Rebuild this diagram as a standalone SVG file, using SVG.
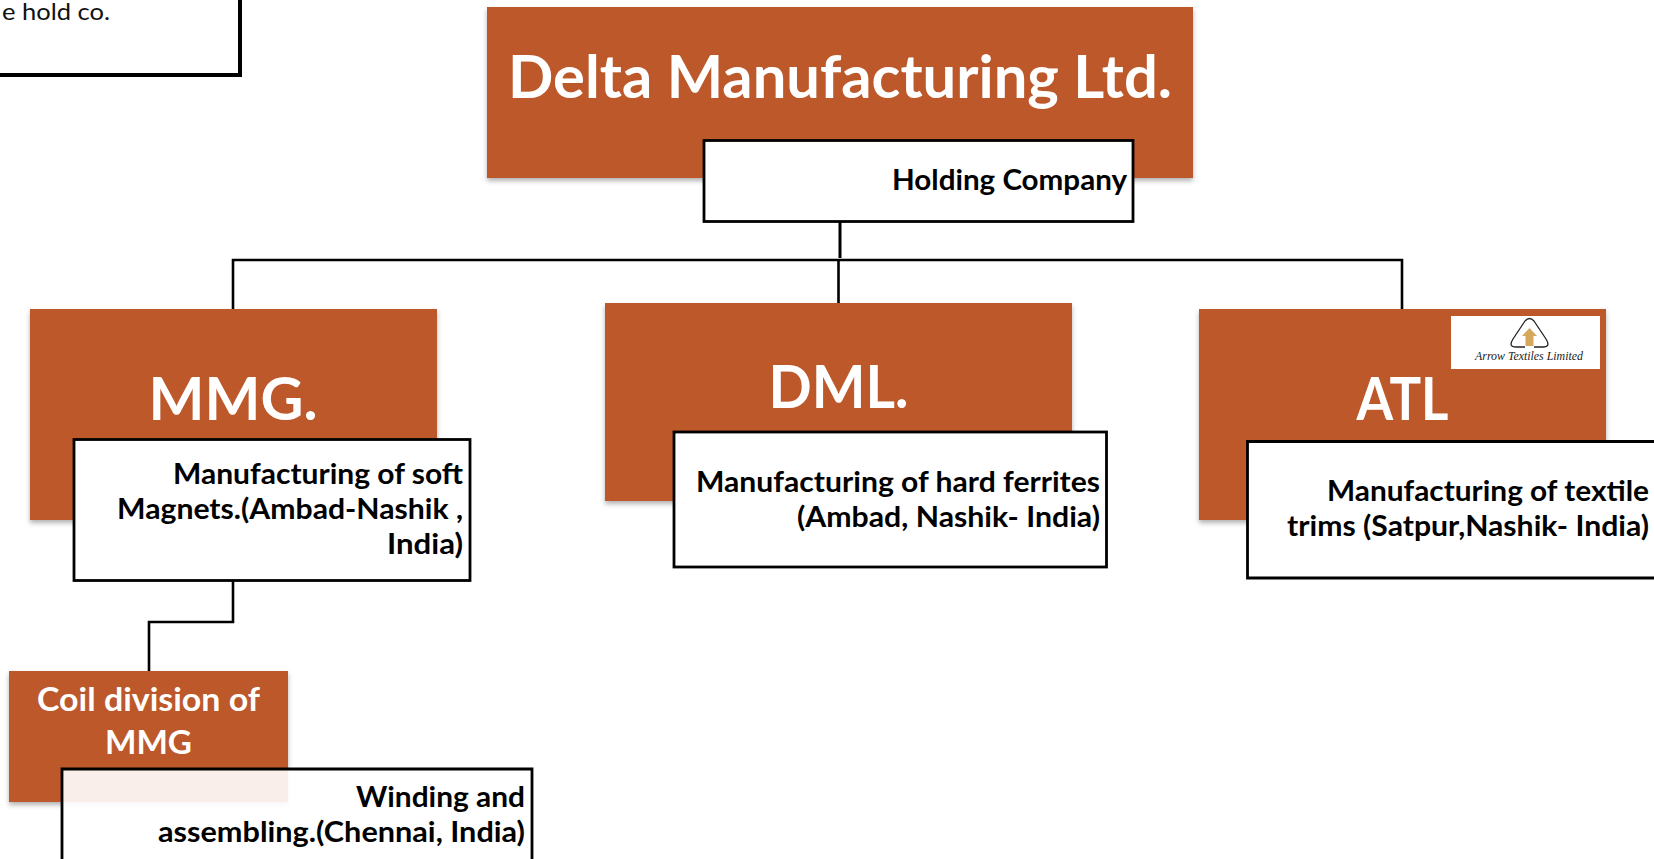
<svg xmlns="http://www.w3.org/2000/svg" width="1654" height="859" viewBox="0 0 1654 859">
<style>
text{font-family:Lato,"Liberation Sans",sans-serif}
.org{fill:#bc582c;filter:url(#sh)}
.box{fill:#fff;stroke:#000;stroke-width:2.8}
.t{fill:#fff;font-weight:700;text-anchor:middle}
.d{fill:#000;font-weight:700;font-size:29px;text-anchor:end}
.c{fill:none;stroke:#000;stroke-width:2.6}
</style>
<defs>
<filter id="sh" x="-5%" y="-5%" width="110%" height="115%"><feDropShadow dx="0" dy="3" stdDeviation="2.5" flood-color="#000" flood-opacity=".3"/></filter>
</defs>
<rect width="1654" height="859" fill="#fff"/>
<g id="note">
<path d="M240 0V75H0" fill="none" stroke="#000" stroke-width="4"/>
<text x="2" y="20" font-size="24" fill="#111" textLength="108" lengthAdjust="spacingAndGlyphs">e hold co.</text>
</g>
<g id="connectors">
<path d="M840 222V258" fill="none" stroke="#000" stroke-width="3"/>
<path class="c" d="M233 309V260H1402V309"/>
<path class="c" d="M838.500 260V303"/>
<path class="c" d="M233 580V622H149V671"/>
</g>
<g id="delta">
<rect class="org" x="487" y="7" width="706" height="171"/>
<text class="t" x="840" y="98" font-size="60" textLength="664" lengthAdjust="spacingAndGlyphs">Delta Manufacturing Ltd.</text>
<rect class="box" x="704" y="140.500" width="429" height="81"/>
<text class="d" x="1127" y="190" textLength="235" lengthAdjust="spacingAndGlyphs">Holding Company</text>
</g>
<g id="mmg">
<rect class="org" x="30" y="309" width="407" height="211"/>
<text class="t" x="233" y="420" font-size="59" textLength="169" lengthAdjust="spacingAndGlyphs">MMG.</text>
<rect class="box" x="74" y="439.500" width="396" height="141"/>
<text class="d" x="463" y="484" textLength="290" lengthAdjust="spacingAndGlyphs">Manufacturing of soft</text>
<text class="d" x="463" y="519" textLength="346" lengthAdjust="spacingAndGlyphs">Magnets.(Ambad-Nashik ,</text>
<text class="d" x="463" y="554" textLength="76" lengthAdjust="spacingAndGlyphs">India)</text>
</g>
<g id="dml">
<rect class="org" x="605" y="303" width="467" height="198"/>
<text class="t" x="838.500" y="408" font-size="59" textLength="140" lengthAdjust="spacingAndGlyphs">DML.</text>
<rect class="box" x="674" y="432" width="432.500" height="135"/>
<text class="d" x="1100" y="491.500" textLength="404" lengthAdjust="spacingAndGlyphs">Manufacturing of hard ferrites</text>
<text class="d" x="1100" y="526.500" textLength="303" lengthAdjust="spacingAndGlyphs">(Ambad, Nashik- India)</text>
</g>
<g id="atl">
<rect class="org" x="1199" y="309" width="407" height="211"/>
<text class="t" x="1402.500" y="420" font-size="59" textLength="92" lengthAdjust="spacingAndGlyphs">ATL</text>
<rect x="1451" y="316" width="149" height="53" fill="#fff"/>
<path d="M1534 347H1543Q1551 347 1546 339L1534 321Q1529.500 316 1525 321L1513 339Q1508 347 1516 347H1525" fill="none" stroke="#222" stroke-width="1.300" stroke-linejoin="round"/>
<path d="M1529.500 328L1537 336H1533.500V346H1525.500V336H1522Z" fill="#d6a85c"/>
<text x="1529" y="360" font-size="12.500" text-anchor="middle" fill="#222" font-style="italic" style="font-family:'Liberation Serif',serif" textLength="108" lengthAdjust="spacingAndGlyphs">Arrow Textiles Limited</text>
<path class="box" d="M1654 441.500H1247.500V578H1654"/>
<text class="d" x="1649" y="500.500" textLength="322" lengthAdjust="spacingAndGlyphs">Manufacturing of textile</text>
<text class="d" x="1649" y="535.500" textLength="362" lengthAdjust="spacingAndGlyphs">trims (Satpur,Nashik- India)</text>
</g>
<g id="coil">
<rect class="org" x="9" y="671" width="279" height="131"/>
<text class="t" x="148.500" y="711" font-size="33" textLength="223" lengthAdjust="spacingAndGlyphs">Coil division of</text>
<text class="t" x="148.500" y="754" font-size="33" textLength="87" lengthAdjust="spacingAndGlyphs">MMG</text>
<path d="M62 859V769H532V859" fill="#fff" fill-opacity=".9" stroke="#000" stroke-width="2.800"/>
<text class="d" x="525" y="807" textLength="169" lengthAdjust="spacingAndGlyphs">Winding and</text>
<text class="d" x="525" y="842" textLength="367" lengthAdjust="spacingAndGlyphs">assembling.(Chennai, India)</text>
</g>
</svg>
